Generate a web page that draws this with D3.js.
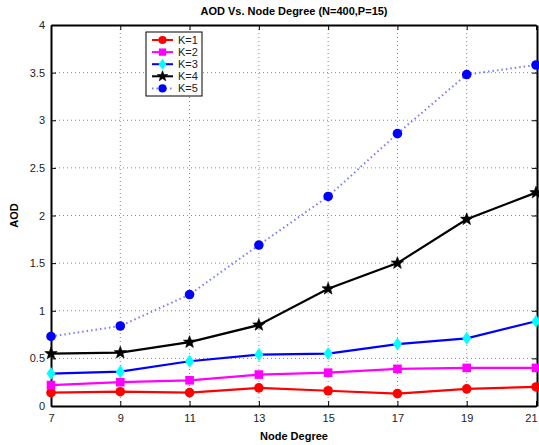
<!DOCTYPE html>
<html>
<head>
<meta charset="utf-8">
<script src="https://cdn.jsdelivr.net/npm/d3@7"></script>
<style>
  body { margin: 0; background: #fff; }
  svg { display: block; font-family: "Liberation Sans", Arial, sans-serif; }
</style>
</head>
<body>
<div id="chart"></div>
<script>
// --- data ---
const nodeDegrees = [7, 9, 11, 13, 15, 17, 19, 21];
const k1 = [0.14, 0.15, 0.14, 0.19, 0.16, 0.13, 0.18, 0.20];
const k2 = [0.22, 0.25, 0.27, 0.33, 0.35, 0.39, 0.40, 0.40];
const k3 = [0.34, 0.36, 0.47, 0.54, 0.55, 0.65, 0.71, 0.89];
const k4 = [0.55, 0.56, 0.67, 0.85, 1.23, 1.50, 1.96, 2.24];
const k5 = [0.73, 0.84, 1.17, 1.69, 2.20, 2.86, 3.48, 3.58];
const yTicks = [0, 0.5, 1, 1.5, 2, 2.5, 3, 3.5, 4];

const series = [
  {name: "K=1", values: k1, line: "#ff0000", marker: "circle", mfill: "#ff0000", dash: null},
  {name: "K=2", values: k2, line: "#ff00ff", marker: "square", mfill: "#ff00ff", dash: null},
  {name: "K=3", values: k3, line: "#0000ff", marker: "diamond", mfill: "#00ffff", dash: null},
  {name: "K=4", values: k4, line: "#000000", marker: "star", mfill: "#000000", dash: null},
  {name: "K=5", values: k5, line: "#7b7bff", marker: "circle", mfill: "#0000ff", dash: "1.5,3"}
];

const W = 539, H = 445;
const margin = {top: 25, right: 2, bottom: 39, left: 51};
const width = W - margin.left - margin.right;
const height = H - margin.top - margin.bottom;

const svg = d3.select("#chart").append("svg")
    .attr("width", W).attr("height", H);
const g = svg.append("g").attr("transform", `translate(${margin.left},${margin.top})`);

const x = d3.scaleLinear().domain([7, 21]).range([0, width - 1]);
const y = d3.scaleLinear().domain([0, 4]).range([height, 0]);

// grid
g.append("g").selectAll("line").data(nodeDegrees.slice(1, -1)).enter().append("line")
    .attr("x1", d => x(d)).attr("x2", d => x(d)).attr("y1", 0).attr("y2", height)
    .attr("stroke", "#888").attr("stroke-width", 1).attr("stroke-dasharray", "1,3");
g.append("g").selectAll("line").data(yTicks.slice(1, -1)).enter().append("line")
    .attr("y1", d => y(d)).attr("y2", d => y(d)).attr("x1", 0).attr("x2", width)
    .attr("stroke", "#888").attr("stroke-width", 1).attr("stroke-dasharray", "1,3");

// axes
const xAxis = g.append("g").attr("transform", `translate(0,${height})`)
    .call(d3.axisBottom(x).tickValues(nodeDegrees).tickSizeInner(-5).tickSizeOuter(0).tickPadding(8));
const yAxis = g.append("g")
    .call(d3.axisLeft(y).tickValues(yTicks).tickFormat(d3.format("")).tickSizeInner(-5).tickSizeOuter(0).tickPadding(6));
const xTop = g.append("g")
    .call(d3.axisTop(x).tickValues(nodeDegrees).tickSizeInner(-5).tickSizeOuter(0).tickFormat(""));
const yRight = g.append("g").attr("transform", `translate(${width},0)`)
    .call(d3.axisRight(y).tickValues(yTicks).tickSizeInner(-5).tickSizeOuter(0).tickFormat(""));
[xAxis, yAxis, xTop, yRight].forEach(a => {
  a.select(".domain").attr("stroke", "#000").attr("stroke-width", 2);
  a.selectAll(".tick line").attr("stroke", "#000");
  a.selectAll(".tick text").attr("fill", "#222").style("font-size", "11px");
});
// keep the last x label inside the window
xAxis.selectAll(".tick text").filter(d => d === 21).attr("text-anchor", "end").attr("dx", "0.1em");

// lines
const line = d3.line().x((d, i) => x(nodeDegrees[i])).y(d => y(d));
const starPath = (r) => {
  const pts = [];
  for (let i = 0; i < 10; i++) {
    const a = -Math.PI / 2 + i * Math.PI / 5;
    const rr = i % 2 === 0 ? r : r * 0.42;
    pts.push([rr * Math.cos(a), rr * Math.sin(a)]);
  }
  return "M" + pts.map(p => p.join(",")).join("L") + "Z";
};
function drawMarker(sel, s, cx, cy, k) {
  k = k || 1;
  if (s.marker === "circle") {
    sel.append("circle").attr("cx", cx).attr("cy", cy).attr("r", 4.8 * k).attr("fill", s.mfill);
  } else if (s.marker === "square") {
    const h = 4.3 * k;
    sel.append("rect").attr("x", cx - h).attr("y", cy - h).attr("width", 2 * h).attr("height", 2 * h).attr("fill", s.mfill);
  } else if (s.marker === "diamond") {
    sel.append("path").attr("d", `M${cx},${cy - 6.5 * k}L${cx + 4.5 * k},${cy}L${cx},${cy + 6.5 * k}L${cx - 4.5 * k},${cy}Z`).attr("fill", s.mfill);
  } else {
    sel.append("path").attr("d", starPath(6.5 * k)).attr("transform", `translate(${cx},${cy})`)
        .attr("fill", s.mfill).attr("stroke", "#000").attr("stroke-width", 0.6);
  }
}

series.forEach(s => {
  g.append("path").datum(s.values).attr("d", line)
      .attr("fill", "none").attr("stroke", s.line).attr("stroke-width", s.dash ? 2 : 2.2)
      .attr("stroke-dasharray", s.dash);
  const mg = g.append("g");
  s.values.forEach((v, i) => drawMarker(mg, s, x(nodeDegrees[i]), y(v)));
});

// legend
const lg = svg.append("g").attr("transform", "translate(146,32)");
lg.append("rect").attr("width", 56).attr("height", 64)
    .attr("fill", "#fff").attr("stroke", "#000").attr("stroke-width", 1);
series.forEach((s, i) => {
  const yy = 8 + i * 12.1;
  lg.append("line").attr("x1", 6).attr("x2", 27).attr("y1", yy).attr("y2", yy)
      .attr("stroke", s.line).attr("stroke-width", 2).attr("stroke-dasharray", s.dash);
  drawMarker(lg, s, 16.5, yy, 0.85);
  lg.append("text").attr("x", 32).attr("y", yy + 4).text(s.name)
      .style("font-size", "11px").attr("fill", "#222");
});

// titles
svg.append("text").attr("x", margin.left + width / 2).attr("y", 15).attr("text-anchor", "middle")
    .style("font-size", "11px").style("font-weight", "bold").text("AOD Vs. Node Degree (N=400,P=15)");
svg.append("text").attr("x", margin.left + width / 2).attr("y", 440).attr("text-anchor", "middle")
    .style("font-size", "11px").style("font-weight", "bold").text("Node Degree");
svg.append("text").attr("transform", `translate(18,${margin.top + height / 2}) rotate(-90)`)
    .attr("text-anchor", "middle").style("font-size", "11px").style("font-weight", "bold").text("AOD");
</script>
</body>
</html>
